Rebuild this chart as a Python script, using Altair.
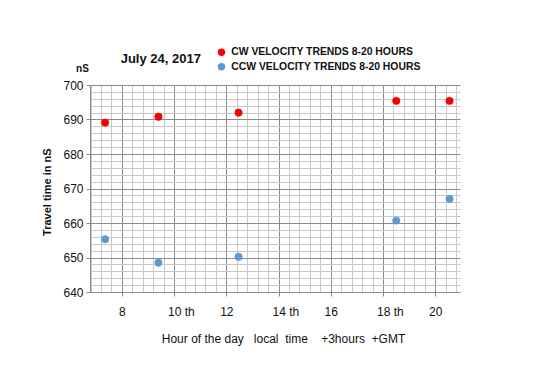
import altair as alt
import pandas as pd

# ---- data ----
series_names = ["CW VELOCITY TRENDS 8-20 HOURS", "CCW VELOCITY TRENDS 8-20 HOURS"]
series_colors = ["#ff0000", "#5b9bd5"]
cw_hours = [7.36, 9.40, 12.47, 18.51, 20.55]
cw_values = [689.1, 690.8, 692.0, 695.4, 695.4]
ccw_hours = [7.36, 9.40, 12.47, 18.51, 20.55]
ccw_values = [655.3, 648.5, 650.2, 660.7, 667.0]

x_tick_values = [8, 10, 12, 14, 16, 18, 20]
x_tick_labels = ["8", "10 th", "12", "14 th", "16", "18 th", "20"]
y_tick_values = [640, 650, 660, 670, 680, 690, 700]
y_tick_labels = ["640", "650", "660", "670", "680", "690", "700"]

title_text = "July 24, 2017"
unit_text = "nS"
y_title = "Travel time in nS"
x_title = "Hour of the day\u00a0\u00a0\u00a0local\u00a0 time\u00a0\u00a0\u00a0\u00a0+3hours\u00a0 +GMT"

# ---- build table ----
rows = []
for h, v in zip(cw_hours, cw_values):
    rows.append({"hour": h, "value": v, "series": series_names[0]})
for h, v in zip(ccw_hours, ccw_values):
    rows.append({"hour": h, "value": v, "series": series_names[1]})
df = pd.DataFrame(rows)

x_minor = [round(6.8 + 0.4 * i, 1) for i in range(36)]
y_minor = list(range(640, 701, 2))

def near_any(vals):
    return " || ".join(f"abs(datum.value-{v})<0.01" for v in vals)

x_major_test = near_any(x_tick_values)
x_th_test = near_any([v for v, l in zip(x_tick_values, x_tick_labels) if "th" in l])
y_major_test = near_any(y_tick_values)

x_label_expr = "".join(f"abs(datum.value-{v})<0.01 ? '{l}' : " for v, l in zip(x_tick_values, x_tick_labels)) + "''"
y_label_expr = "".join(f"abs(datum.value-{v})<0.01 ? '{l}' : " for v, l in zip(y_tick_values, y_tick_labels)) + "''"

MAJOR = "#8c8c8c"
MINOR = "#c8c8c8"
FONT = "Liberation Sans"

x_axis = alt.Axis(
    values=x_minor,
    labelExpr=x_label_expr,
    labelFont=FONT, labelFontSize=12, labelColor="#111",
    labelAlign={"condition": {"test": x_th_test, "value": "left"}, "value": "center"},
    labelOffset={"condition": {"test": x_th_test, "value": -6.5}, "value": 0},
    labelPadding=10,
    labelOverlap=False,
    labelFlush=False,
    tickSize=4,
    tickColor=MAJOR,
    tickOpacity={"condition": {"test": x_major_test, "value": 1}, "value": 0},
    gridColor={"condition": {"test": x_major_test, "value": MAJOR}, "value": MINOR},
    gridOpacity=1,
    domainColor=MAJOR,
    title=x_title,
    titleFont=FONT, titleFontSize=12, titleFontWeight="normal", titleColor="#111",
    titleAlign="center", titleBaseline="middle",
    titleX=193, titleY=46,
)

y_axis = alt.Axis(
    values=y_minor,
    labelExpr=y_label_expr,
    labelFont=FONT, labelFontSize=12, labelColor="#111",
    labelPadding=3,
    labelOverlap=False,
    tickSize=4,
    tickColor=MAJOR,
    tickOpacity={"condition": {"test": y_major_test, "value": 1}, "value": 0},
    gridColor={"condition": {"test": y_major_test, "value": MAJOR}, "value": MINOR},
    gridOpacity=1,
    domainColor=MAJOR,
    title=y_title,
    titleFont=FONT, titleFontSize=11, titleFontWeight="bold", titleColor="#111",
    titleAlign="center", titleBaseline="middle", titleAngle=270,
    titleX=-42.5, titleY=106.7,
)

points = alt.Chart(df).mark_point(filled=True, size=55, opacity=1, strokeWidth=0.6).encode(
    x=alt.X("hour:Q", scale=alt.Scale(domain=[6.78, 20.95], nice=False, zero=False), axis=x_axis),
    y=alt.Y("value:Q", scale=alt.Scale(domain=[640, 700], nice=False, zero=False), axis=y_axis),
    color=alt.Color(
        "series:N",
        scale=alt.Scale(domain=series_names, range=series_colors),
        legend=alt.Legend(
            title=None, orient="none", legendX=126.3, legendY=-38,
            symbolType="circle", symbolSize=55, symbolStrokeWidth=0,
            labelFont=FONT, labelFontSize=10.4, labelFontWeight="bold", labelColor="#111",
            labelOffset=4.5, rowPadding=3.6, padding=0, labelLimit=400,
        ),
    ),
    stroke=alt.Stroke("series:N", scale=alt.Scale(domain=series_names, range=["#d00000", "#5b9bd5"]), legend=None),
    order=alt.Order("series:N"),
)

labels_df = pd.DataFrame({"t": [unit_text, title_text]})

unit = alt.Chart(labels_df).transform_filter(
    alt.datum.t == unit_text
).mark_text(
    font=FONT, fontSize=10, fontWeight="bold", color="#111", align="center", baseline="middle"
).encode(text="t:N", x=alt.value(-7.5), y=alt.value(-15.7))

title = alt.Chart(labels_df).transform_filter(
    alt.datum.t == title_text
).mark_text(
    font=FONT, fontSize=13, fontWeight="bold", color="#111", align="left", baseline="alphabetic"
).encode(text="t:N", x=alt.value(30.7), y=alt.value(-21.7))

chart = alt.layer(points, unit, title).properties(
    width=370, height=207,
    autosize=alt.AutoSizeParams(type="none"),
    padding={"left": 82, "top": 77, "right": 80, "bottom": 70},
).configure_view(stroke=None)

chart.save("out.html", embed_options={"renderer": "svg", "actions": False})
